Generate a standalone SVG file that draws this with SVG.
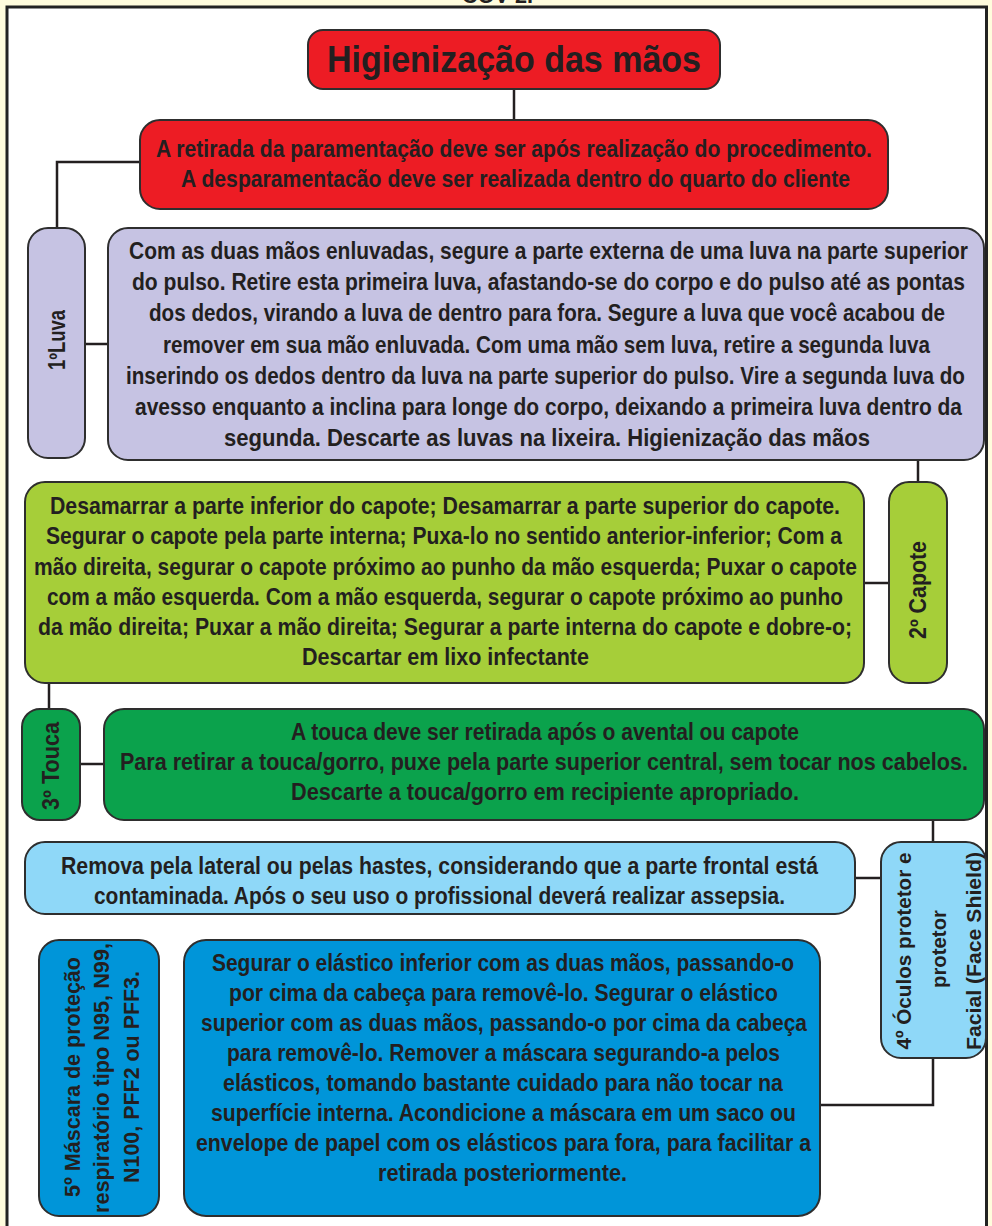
<svg xmlns="http://www.w3.org/2000/svg" width="992" height="1226" viewBox="0 0 992 1226">
<style>
.t{font-family:"Liberation Sans",Arial,sans-serif;font-weight:bold;fill:#231f20;text-anchor:middle}
.b{font-size:20px}
.v{font-size:23px}
.o{font-size:21px}
.m{font-size:22px}
.box{stroke:#2e2e2e;stroke-width:2}
.red{fill:#ed1c24}
.lav{fill:#c6c3e3}
.yg{fill:#a6ce39}
.gr{fill:#0ba24c}
.lb{fill:#8fd8f8}
.bl{fill:#0095d9}
.c{fill:none;stroke:#231f20;stroke-width:2.5}
</style>
<rect x="0" y="0" width="992" height="1226" fill="#fffcdd"/>
<rect x="7" y="7" width="979.5" height="1240" fill="#ffffff" stroke="#222" stroke-width="3"/>
<text class="t" x="497.5" y="3" font-size="22" textLength="71" lengthAdjust="spacingAndGlyphs">COV 2.</text>

<g id="connectors">
<path class="c" d="M514,89 V120"/>
<path class="c" d="M140,162 H57 V228"/>
<path class="c" d="M85,344 H108"/>
<path class="c" d="M918,460 V482"/>
<path class="c" d="M864,583 H889"/>
<path class="c" d="M49,683 V709"/>
<path class="c" d="M80,764 H104"/>
<path class="c" d="M933,820 V842"/>
<path class="c" d="M855,878 H881"/>
<path class="c" d="M933,1058 V1105 H820"/>
</g>

<g id="title">
<rect class="box red" x="308" y="30" width="412" height="59" rx="15"/>
<text class="t" x="514" y="71.5" font-size="36" textLength="374" lengthAdjust="spacingAndGlyphs">Higienização das mãos</text>
</g>

<g id="intro">
<rect class="box red" x="140" y="120" width="748" height="89" rx="20"/>
<g transform="scale(1,1.2)">
<text class="t b" x="514" y="131.25" textLength="716" lengthAdjust="spacingAndGlyphs">A retirada da paramentação deve ser após realização do procedimento.</text>
<text class="t b" x="515.5" y="156.25" textLength="669" lengthAdjust="spacingAndGlyphs">A desparamentacão deve ser realizada dentro do quarto do cliente</text>
</g>
</g>

<g id="luva-label">
<rect class="box lav" x="28" y="228" width="57" height="230" rx="20"/>
<text class="t v" transform="rotate(-90)" x="-340" y="64.5" textLength="60" lengthAdjust="spacingAndGlyphs">1ºLuva</text>
</g>

<g id="luva-text">
<rect class="box lav" x="108" y="228" width="876" height="232" rx="20"/>
<g transform="scale(1,1.2)">
<text class="t b" x="548.5" y="215.83" textLength="839" lengthAdjust="spacingAndGlyphs">Com as duas mãos enluvadas, segure a parte externa de uma luva na parte superior</text>
<text class="t b" x="548.5" y="241.83" textLength="833" lengthAdjust="spacingAndGlyphs">do pulso. Retire esta primeira luva, afastando-se do corpo e do pulso até as pontas</text>
<text class="t b" x="547" y="267.83" textLength="796" lengthAdjust="spacingAndGlyphs">dos dedos, virando a luva de dentro para fora. Segure a luva que você acabou de</text>
<text class="t b" x="546.5" y="293.83" textLength="767" lengthAdjust="spacingAndGlyphs">remover em sua mão enluvada. Com uma mão sem luva, retire a segunda luva</text>
<text class="t b" x="545.5" y="319.83" textLength="839" lengthAdjust="spacingAndGlyphs">inserindo os dedos dentro da luva na parte superior do pulso. Vire a segunda luva do</text>
<text class="t b" x="548.5" y="345.83" textLength="827" lengthAdjust="spacingAndGlyphs">avesso enquanto a inclina para longe do corpo, deixando a primeira luva dentro da</text>
<text class="t b" x="547" y="371.83" textLength="646" lengthAdjust="spacingAndGlyphs">segunda. Descarte as luvas na lixeira. Higienização das mãos</text>
</g>
</g>

<g id="capote-label">
<rect class="box yg" x="889" y="482" width="58" height="201" rx="20"/>
<text class="t v" transform="rotate(-90)" x="-590" y="926" textLength="98" lengthAdjust="spacingAndGlyphs">2º Capote</text>
</g>

<g id="capote-text">
<rect class="box yg" x="25" y="482" width="839" height="201" rx="20"/>
<g transform="scale(1,1.2)">
<text class="t b" x="445" y="428.75" textLength="790" lengthAdjust="spacingAndGlyphs">Desamarrar a parte inferior do capote; Desamarrar a parte superior do capote.</text>
<text class="t b" x="444" y="453.75" textLength="796" lengthAdjust="spacingAndGlyphs">Segurar o capote pela parte interna; Puxa-lo no sentido anterior-inferior; Com a</text>
<text class="t b" x="445.5" y="479.17" textLength="823" lengthAdjust="spacingAndGlyphs">mão direita, segurar o capote próximo ao punho da mão esquerda; Puxar o capote</text>
<text class="t b" x="445" y="504.17" textLength="796" lengthAdjust="spacingAndGlyphs">com a mão esquerda. Com a mão esquerda, segurar o capote próximo ao punho</text>
<text class="t b" x="445" y="529.58" textLength="814" lengthAdjust="spacingAndGlyphs">da mão direita; Puxar a mão direita; Segurar a parte interna do capote e dobre-o;</text>
<text class="t b" x="445.5" y="554.58" textLength="287" lengthAdjust="spacingAndGlyphs">Descartar em lixo infectante</text>
</g>
</g>

<g id="touca-label">
<rect class="box gr" x="22" y="709" width="58" height="111" rx="18"/>
<text class="t v" transform="rotate(-90)" x="-766" y="59" textLength="88" lengthAdjust="spacingAndGlyphs">3º Touca</text>
</g>

<g id="touca-text">
<rect class="box gr" x="104" y="709" width="880" height="111" rx="20"/>
<g transform="scale(1,1.2)">
<text class="t b" x="545" y="617.08" textLength="508" lengthAdjust="spacingAndGlyphs">A touca deve ser retirada após o avental ou capote</text>
<text class="t b" x="544" y="642.08" textLength="848" lengthAdjust="spacingAndGlyphs">Para retirar a touca/gorro, puxe pela parte superior central,  sem tocar nos cabelos.</text>
<text class="t b" x="545" y="667.08" textLength="508" lengthAdjust="spacingAndGlyphs">Descarte a touca/gorro em recipiente apropriado.</text>
</g>
</g>

<g id="oculos-text">
<rect class="box lb" x="25" y="842" width="830" height="72" rx="20"/>
<g transform="scale(1,1.2)">
<text class="t b" x="439.5" y="728.75" textLength="757" lengthAdjust="spacingAndGlyphs">Remova pela lateral ou pelas hastes, considerando que a parte frontal está</text>
<text class="t b" x="439.5" y="752.92" textLength="691" lengthAdjust="spacingAndGlyphs">contaminada. Após o seu uso o profissional deverá realizar assepsia.</text>
</g>
</g>

<g id="oculos-label">
<rect class="box lb" x="881" y="842" width="105" height="216" rx="20"/>
<text class="t o" transform="rotate(-90)" x="-951" y="911" textLength="197" lengthAdjust="spacingAndGlyphs">4º Óculos protetor e</text>
<text class="t o" transform="rotate(-90)" x="-949" y="946" textLength="78" lengthAdjust="spacingAndGlyphs">protetor</text>
<text class="t o" transform="rotate(-90)" x="-951" y="981" textLength="198" lengthAdjust="spacingAndGlyphs">Facial (Face Shield)</text>
</g>

<g id="mascara-label">
<rect class="box bl" x="39" y="940" width="120" height="276" rx="20"/>
<text class="t m" transform="rotate(-90)" x="-1077" y="79.5" textLength="240" lengthAdjust="spacingAndGlyphs">5º Máscara de proteção</text>
<text class="t m" transform="rotate(-90)" x="-1078" y="109" textLength="270" lengthAdjust="spacingAndGlyphs">respiratório tipo N95, N99,</text>
<text class="t m" transform="rotate(-90)" x="-1077" y="138.5" textLength="212" lengthAdjust="spacingAndGlyphs">N100, PFF2 ou PFF3.</text>
</g>

<g id="mascara-text">
<rect class="box bl" x="184" y="940" width="636" height="276" rx="22"/>
<g transform="scale(1,1.2)">
<text class="t b" x="503" y="809.58" textLength="582" lengthAdjust="spacingAndGlyphs">Segurar o elástico inferior com as duas mãos, passando-o</text>
<text class="t b" x="503.5" y="834.58" textLength="549" lengthAdjust="spacingAndGlyphs">por cima da cabeça para removê-lo. Segurar o elástico</text>
<text class="t b" x="504" y="859.58" textLength="606" lengthAdjust="spacingAndGlyphs">superior com as duas mãos, passando-o por cima da cabeça</text>
<text class="t b" x="503.5" y="884.58" textLength="553" lengthAdjust="spacingAndGlyphs">para removê-lo. Remover a máscara segurando-a pelos</text>
<text class="t b" x="503" y="909.58" textLength="560" lengthAdjust="spacingAndGlyphs">elásticos, tomando bastante cuidado para não tocar na</text>
<text class="t b" x="503.5" y="934.58" textLength="585" lengthAdjust="spacingAndGlyphs">superfície interna. Acondicione a máscara em um saco ou</text>
<text class="t b" x="503.5" y="959.58" textLength="615" lengthAdjust="spacingAndGlyphs">envelope de papel com os elásticos para fora, para facilitar a</text>
<text class="t b" x="502.5" y="984.58" textLength="249" lengthAdjust="spacingAndGlyphs">retirada posteriormente.</text>
</g>
</g>
</svg>
